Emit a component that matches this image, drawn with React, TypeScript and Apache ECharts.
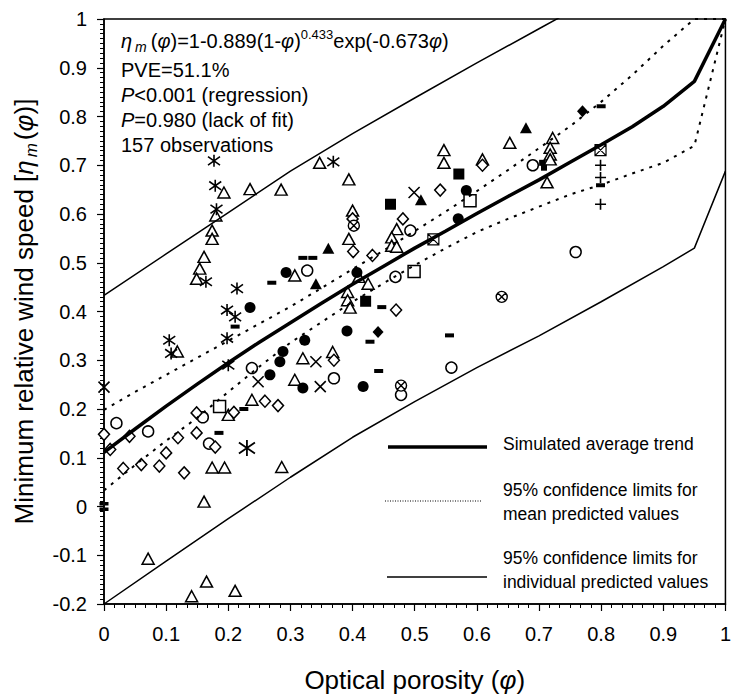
import React, { useEffect, useRef } from 'react';
import * as echarts from 'echarts';

const FONT = '"Liberation Sans", Arial, Helvetica, sans-serif';

// ---- fitted curves ----
const trendX = [0, 0.05, 0.1, 0.15, 0.2, 0.25, 0.3, 0.35, 0.4, 0.45, 0.5, 0.55, 0.6, 0.65, 0.7, 0.75, 0.8, 0.85, 0.9, 0.95, 1];
const trendY = [0.111, 0.159, 0.206, 0.251, 0.295, 0.337, 0.377, 0.417, 0.456, 0.493, 0.53, 0.565, 0.601, 0.636, 0.67, 0.706, 0.742, 0.779, 0.821, 0.872, 1.0];
const meanUpperY = [0.198, 0.235, 0.27, 0.305, 0.34, 0.375, 0.41, 0.448, 0.487, 0.525, 0.565, 0.605, 0.647, 0.69, 0.735, 0.78, 0.83, 0.885, 0.945, 1.0, 1.0];
const meanLowerY = [0.033, 0.085, 0.135, 0.182, 0.235, 0.287, 0.336, 0.378, 0.42, 0.458, 0.495, 0.53, 0.563, 0.59, 0.615, 0.64, 0.66, 0.683, 0.705, 0.74, 1.0];
const indivX = [0, 0.1, 0.2, 0.3, 0.4, 0.5, 0.6, 0.7, 0.8, 0.9, 0.95, 1];
const indivUpperY = [0.433, 0.518, 0.603, 0.688, 0.765, 0.838, 0.91, 0.98, 1.05, 1.12, 1.15, 1.0];
const indivLowerY = [-0.2, -0.112, -0.025, 0.06, 0.142, 0.215, 0.285, 0.35, 0.42, 0.492, 0.53, 0.688];

// ---- observations by marker type ----
const openTriangles = [
  [0.118, 0.318], [0.32, 0.304], [0.307, 0.26], [0.2, 0.188], [0.238, 0.219], [0.174, 0.08], [0.194, 0.08],
  [0.286, 0.081], [0.161, 0.01], [0.071, -0.107], [0.165, -0.154], [0.141, -0.184], [0.211, -0.173],
  [0.193, 0.644], [0.235, 0.651], [0.285, 0.65], [0.18, 0.597], [0.174, 0.566], [0.174, 0.549], [0.161, 0.512],
  [0.154, 0.488], [0.149, 0.467], [0.307, 0.474],
  [0.347, 0.705], [0.394, 0.671], [0.547, 0.731], [0.547, 0.705], [0.609, 0.712], [0.4, 0.607], [0.394, 0.549],
  [0.471, 0.569], [0.463, 0.552], [0.463, 0.535], [0.471, 0.533], [0.41, 0.471], [0.425, 0.457], [0.392, 0.44],
  [0.392, 0.423], [0.396, 0.408], [0.368, 0.317],
  [0.653, 0.746], [0.722, 0.756], [0.718, 0.736], [0.718, 0.722], [0.718, 0.712], [0.713, 0.665],
];
const openCircles = [
  [0.02, 0.171], [0.071, 0.154], [0.159, 0.183], [0.169, 0.129], [0.238, 0.284], [0.327, 0.484], [0.493, 0.566],
  [0.469, 0.471], [0.37, 0.263], [0.478, 0.229], [0.559, 0.285], [0.69, 0.7], [0.759, 0.522],
];
const openDiamonds = [
  [0, 0.148], [0.01, 0.117], [0.041, 0.144], [0.031, 0.078], [0.06, 0.086], [0.089, 0.083], [0.1, 0.11],
  [0.119, 0.141], [0.129, 0.069], [0.149, 0.151], [0.149, 0.192], [0.179, 0.122], [0.209, 0.193], [0.259, 0.216],
  [0.28, 0.207], [0.4, 0.59], [0.541, 0.649], [0.401, 0.523], [0.432, 0.515], [0.481, 0.59], [0.47, 0.403],
  [0.37, 0.3], [0.609, 0.7],
];
const filledCircles = [
  [0.267, 0.27], [0.283, 0.297], [0.288, 0.318], [0.323, 0.341], [0.32, 0.243], [0.235, 0.408], [0.293, 0.48],
  [0.583, 0.648], [0.57, 0.59], [0.407, 0.48], [0.391, 0.36], [0.417, 0.246],
];
const filledSquares = [[0.571, 0.682], [0.461, 0.62], [0.421, 0.421]];
const smallSquares = [[0.705, 0.705], [0.708, 0.695]];
const openSquares = [[0.186, 0.205], [0.589, 0.627], [0.499, 0.482]];
const filledTriangles = [[0.341, 0.457], [0.361, 0.53], [0.51, 0.629], [0.679, 0.777]];
const filledDiamonds = [[0.441, 0.358], [0.77, 0.811]];
const asterisks = [
  [0.105, 0.341], [0.108, 0.314], [0.198, 0.345], [0.2, 0.29], [0.177, 0.709], [0.179, 0.658], [0.181, 0.61],
  [0.164, 0.461], [0.214, 0.447], [0.198, 0.403], [0.211, 0.389], [0.369, 0.707],
];
const asterisksLarge = [[0.23, 0.12]];
const crosses = [[0, 0.245], [0.248, 0.256], [0.341, 0.297], [0.348, 0.246], [0.499, 0.644]];
const pluses = [[0.799, 0.7], [0.799, 0.675], [0.799, 0.62]];
const dashes = [
  [0.211, 0.369], [0.225, 0.2], [0.185, 0.151], [0.27, 0.459], [0.32, 0.51], [0.336, 0.51], [0.447, 0.409],
  [0.428, 0.338], [0.556, 0.351], [0.442, 0.278], [0.8, 0.821], [0.799, 0.659],
];
const circleCrosses = [[0.402, 0.576], [0.478, 0.248], [0.64, 0.43]];
const squareCrosses = [[0.53, 0.548], [0.799, 0.731]];
const dottedSquares = [[0, 0]];

const zip = (xs: number[], ys: number[]) => xs.map((x, i) => [x, ys[i]]);

const P_ASTERISK = 'path://M5 0L5 10M0.7 1.5L9.3 8.5M9.3 1.5L0.7 8.5';
const P_CROSS = 'path://M0 0L10 10M10 0L0 10';
const P_PLUS = 'path://M5 0L5 10M0 5L10 5';
const P_CIRCLEX = 'path://M0 5A5 5 0 1 1 10 5A5 5 0 1 1 0 5ZM1.5 1.5L8.5 8.5M8.5 1.5L1.5 8.5';
const P_SQUAREX = 'path://M0 0L10 0L10 10L0 10ZM0 0L10 10M10 0L0 10';
const P_DOTSQ = 'path://M0 0H4V4H0ZM6 0H10V4H6ZM0 6H4V10H0ZM6 6H10V10H6Z';

function scatter(data: number[][], symbol: string, size: any, fill: string, stroke: string, bw: number) {
  return {
    type: 'scatter',
    data,
    symbol,
    symbolSize: size,
    itemStyle: { color: fill, borderColor: stroke, borderWidth: bw, opacity: 1 },
    silent: true,
    z: 3,
  };
}

function line(data: number[][], width: number, type: any) {
  return {
    type: 'line',
    data,
    symbol: 'none',
    smooth: false,
    clip: true,
    silent: true,
    lineStyle: { color: '#000', width, type },
    z: 4,
  };
}

const rich = (size: number) => ({
  t: { fontSize: size, fontFamily: FONT, color: '#000', lineHeight: size + 6 },
  e: { fontSize: size, fontFamily: FONT, fontStyle: 'italic', color: '#000', lineHeight: size + 6 },
  s: { fontSize: Math.round(size * 0.66), fontFamily: FONT, fontStyle: 'italic', color: '#000', verticalAlign: 'bottom', padding: [0, 3, 0, 3] },
});

export default function App() {
  const ref = useRef<HTMLDivElement>(null);
  useEffect(() => {
    const chart = echarts.init(ref.current!, null, { renderer: 'svg' });
    const annoRich = {
      t: { fontSize: 20, fontFamily: FONT, color: '#000', lineHeight: 26 },
      e: { fontSize: 20, fontFamily: FONT, fontStyle: 'italic', color: '#000', lineHeight: 26 },
      s: { fontSize: 14, fontFamily: FONT, fontStyle: 'italic', color: '#000', verticalAlign: 'bottom', padding: [0, 4, 0, 3] },
      p: { fontSize: 13, fontFamily: FONT, color: '#000', verticalAlign: 'top' },
    };
    const annoLine = (text: string, y: number) => ({
      type: 'text',
      x: 121,
      y,
      silent: true,
      style: { text, rich: annoRich, fill: '#000', verticalAlign: 'middle', font: `20px ${FONT}` },
    });
    const legText = (text: string, y: number) => ({
      type: 'text',
      x: 503,
      y,
      silent: true,
      style: { text, fill: '#000', fontSize: 17.5, fontFamily: FONT, verticalAlign: 'middle', lineHeight: 24 },
    });
    const legLine = (y: number, x1: number, x2: number, width: number, dash: any) => ({
      type: 'line',
      silent: true,
      shape: { x1, y1: y, x2, y2: y },
      style: { stroke: '#000', lineWidth: width, lineDash: dash },
    });

    const option: any = {
      animation: false,
      backgroundColor: '#fff',
      grid: { left: 104, right: 3, top: 19, bottom: 89, show: true, borderColor: '#000', borderWidth: 1.5, backgroundColor: 'transparent' },
      xAxis: {
        type: 'value', min: 0, max: 1, interval: 0.1,
        name: '{t|Optical porosity (}{e|φ}{t|)}', nameLocation: 'middle', nameGap: 60,
        nameTextStyle: { rich: rich(26) },
        axisLine: { show: true, onZero: false, lineStyle: { color: '#000', width: 1.5 } },
        axisTick: { show: true, length: 7, lineStyle: { color: '#000', width: 1.2 } },
        minorTick: { show: true, splitNumber: 6, length: 4, lineStyle: { color: '#000', width: 1 } },
        axisLabel: { color: '#000', fontSize: 20, fontFamily: FONT, margin: 20, showMinLabel: true, showMaxLabel: true },
        splitLine: { show: false },
        minorSplitLine: { show: false },
      },
      yAxis: {
        type: 'value', min: -0.2, max: 1, interval: 0.1,
        name: '{t|Minimum relative wind speed [}{e|η}{s|m}{t|(}{e|φ}{t|)]}', nameLocation: 'middle', nameGap: 64, nameRotate: 90,
        nameTextStyle: { rich: rich(26) },
        axisLine: { show: true, onZero: false, lineStyle: { color: '#000', width: 1.5 } },
        axisTick: { show: true, length: 7, lineStyle: { color: '#000', width: 1.2 } },
        minorTick: { show: true, splitNumber: 10, length: 4, lineStyle: { color: '#000', width: 1 } },
        axisLabel: { color: '#000', fontSize: 20, fontFamily: FONT, margin: 17, showMinLabel: true, showMaxLabel: true },
        splitLine: { show: false },
        minorSplitLine: { show: false },
      },
      series: [
        line(zip(indivX, indivUpperY), 1.5, 'solid'),
        line(zip(indivX, indivLowerY), 1.5, 'solid'),
        line(zip(trendX, meanUpperY), 2, [3, 6]),
        line(zip(trendX, meanLowerY), 2, [3, 6]),
        line(zip(trendX, trendY), 3.5, 'solid'),
        scatter(openTriangles, 'triangle', [12, 11], '#fff', '#000', 1.5),
        scatter(openCircles, 'circle', 11, '#fff', '#000', 1.5),
        scatter(openDiamonds, 'diamond', [11, 12], '#fff', '#000', 1.5),
        scatter(filledCircles, 'circle', 11, '#000', '#000', 0),
        scatter(filledSquares, 'rect', 11, '#000', '#000', 0),
        scatter(smallSquares, 'rect', 6, '#000', '#000', 0),
        scatter(openSquares, 'rect', 12, '#fff', '#000', 1.5),
        scatter(filledTriangles, 'triangle', [12, 11], '#000', '#000', 0),
        scatter(filledDiamonds, 'diamond', [11, 12], '#000', '#000', 0),
        scatter(asterisks, P_ASTERISK, 12, 'transparent', '#000', 1.6),
        scatter(asterisksLarge, P_ASTERISK, 16, 'transparent', '#000', 1.8),
        scatter(crosses, P_CROSS, 11, 'transparent', '#000', 1.6),
        scatter(pluses, P_PLUS, 11, 'transparent', '#000', 1.6),
        scatter(dashes, 'rect', [9, 4], '#000', '#000', 0),
        scatter(circleCrosses, P_CIRCLEX, 11, '#fff', '#000', 1.4),
        scatter(squareCrosses, P_SQUAREX, 11, '#fff', '#000', 1.2),
        scatter(dottedSquares, P_DOTSQ, 9, '#000', '#000', 0),
      ],
      graphic: [
        annoLine('{e|η}{s|m}{t|(}{e|φ}{t|)=1-0.889(1-}{e|φ}{t|)}{p|0.433}{t|exp(-0.673}{e|φ}{t|)}', 41),
        annoLine('{t|PVE=51.1%}', 70),
        annoLine('{e|P}{t|<0.001 (regression)}', 95),
        annoLine('{e|P}{t|=0.980 (lack of fit)}', 120),
        annoLine('{t|157 observations}', 145),
        legLine(447, 388, 487, 3.5, null),
        legText('Simulated average trend', 444),
        legLine(501, 385, 482, 1, [1, 1.5]),
        legText('95% confidence limits for\nmean predicted values', 502),
        legLine(577, 387, 487, 1.5, null),
        legText('95% confidence limits for\nindividual predicted values', 570),
      ],
    };
    chart.setOption(option);
    return () => chart.dispose();
  }, []);
  return <div ref={ref} style={{ position: 'fixed', left: 0, top: 0, width: 734, height: 698, background: '#fff' }} />;
}
